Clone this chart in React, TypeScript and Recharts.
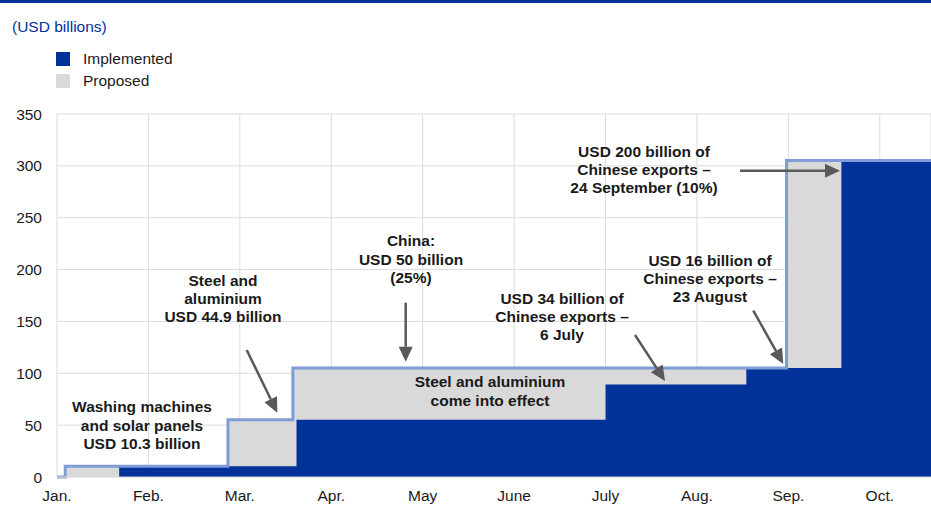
import React from 'react';
import {
  ComposedChart,
  Area,
  Line,
  XAxis,
  YAxis,
  CartesianGrid,
} from 'recharts';

// ---------------------------------------------------------------------------
// Data (x = months since 1 January)
// ---------------------------------------------------------------------------
const monthLabels = ['Jan.', 'Feb.', 'Mar.', 'Apr.', 'May', 'June', 'July', 'Aug.', 'Sep.', 'Oct.'];
const monthTicks = [0, 1, 2, 3, 4, 5, 6, 7, 8, 9];
const valueTicks = [0, 50, 100, 150, 200, 250, 300, 350];

const stepDates = [0, 0.09, 0.68, 1.87, 2.58, 2.62, 6.0, 7.54, 7.98, 8.58, 9.56];
const implementedValues = [0, 0, 10.3, 10.3, 10.3, 55.2, 89.2, 105.2, 105.2, 305.2, 305.2];
const proposedValues = [0, 10.3, 10.3, 55.2, 105.2, 105.2, 105.2, 105.2, 305.2, 305.2, 305.2];

const chartData = stepDates.map((m, i) => ({
  m,
  implemented: implementedValues[i],
  proposed: proposedValues[i],
}));

const BLUE = '#003299';
const GREY = '#D9D9D9';
const LINE_BLUE = '#7F9CD6';
const ARROW = '#595959';
const FONT = '"Liberation Sans", Arial, sans-serif';
const FS = 15.5;

// ---------------------------------------------------------------------------
// Annotations (pixel positions on the page)
// ---------------------------------------------------------------------------
const notes = [
  { x: 142, y: 406.7, lines: ['Washing machines', 'and solar panels', 'USD 10.3 billion'] },
  { x: 223, y: 280, lines: ['Steel and', 'aluminium', 'USD 44.9 billion'] },
  { x: 411, y: 240.7, lines: ['China:', 'USD 50 billion', '(25%)'] },
  { x: 490, y: 381.7, lines: ['Steel and aluminium', 'come into effect'] },
  { x: 562, y: 298.3, lines: ['USD 34 billion of', 'Chinese exports –', '6 July'] },
  { x: 710, y: 260, lines: ['USD 16 billion of', 'Chinese exports –', '23 August'] },
  { x: 644, y: 151, lines: ['USD 200 billion of', 'Chinese exports –', '24 September (10%)'] },
];

const arrows = [
  [246.7, 350, 277.3, 412.7],
  [405.7, 302.7, 405.7, 361.7],
  [635, 335, 665, 381],
  [753.3, 310.7, 783.3, 364],
  [740, 170.7, 840, 170.7],
];

function Arrow({ a }: { a: number[] }) {
  const [x1, y1, x2, y2] = a;
  const dx = x2 - x1;
  const dy = y2 - y1;
  const len = Math.sqrt(dx * dx + dy * dy);
  const ux = dx / len;
  const uy = dy / len;
  const hl = 15;
  const hw = 7;
  const bx = x2 - ux * hl;
  const by = y2 - uy * hl;
  const pts = `${x2},${y2} ${bx - uy * hw},${by + ux * hw} ${bx + uy * hw},${by - ux * hw}`;
  return (
    <g>
      <line x1={x1} y1={y1} x2={bx} y2={by} stroke={ARROW} strokeWidth={2.5} />
      <polygon points={pts} fill={ARROW} />
    </g>
  );
}

export default function App() {
  return (
    <div style={{ position: 'absolute', left: 0, top: 0, width: 931, height: 513, background: '#fff', fontFamily: FONT }}>
      <div style={{ position: 'absolute', left: 0, top: 0, width: 931, height: 2.5, background: BLUE }} />
      <div style={{ position: 'absolute', left: 12, top: 17, fontSize: FS, color: BLUE, lineHeight: '20px' }}>
        (USD billions)
      </div>
      {/* legend */}
      <div style={{ position: 'absolute', left: 56, top: 52, width: 14, height: 14, background: BLUE }} />
      <div style={{ position: 'absolute', left: 83, top: 49, fontSize: FS, color: '#1a1a1a', lineHeight: '20px' }}>Implemented</div>
      <div style={{ position: 'absolute', left: 56, top: 74, width: 14, height: 14, background: GREY }} />
      <div style={{ position: 'absolute', left: 83, top: 71, fontSize: FS, color: '#1a1a1a', lineHeight: '20px' }}>Proposed</div>

      <div style={{ position: 'absolute', left: 0, top: 0 }}>
        <ComposedChart width={931} height={513} data={chartData} margin={{ top: 114, right: 0, bottom: 6, left: 0 }}>
          <CartesianGrid stroke="#DCDCDC" strokeWidth={1} />
          <XAxis
            dataKey="m"
            type="number"
            domain={[0, 9.56]}
            ticks={monthTicks}
            tickFormatter={(v: number) => monthLabels[v]}
            allowDataOverflow
            height={30}
            stroke="#DCDCDC"
            tickLine={false}
            tickSize={0}
            tickMargin={13}
            tick={{ fill: '#1a1a1a', fontSize: FS, fontFamily: FONT }}
            interval={0}
          />
          <YAxis
            type="number"
            domain={[0, 350]}
            ticks={valueTicks}
            width={57}
            axisLine={false}
            tickLine={false}
            tickSize={0}
            tickMargin={15}
            tick={{ fill: '#1a1a1a', fontSize: FS, fontFamily: FONT }}
            interval={0}
          />
          <Area
            type="stepAfter"
            dataKey="proposed"
            stroke="none"
            fill={GREY}
            fillOpacity={1}
            isAnimationActive={false}
          />
          <Area
            type="stepAfter"
            dataKey="implemented"
            stroke="none"
            fill={BLUE}
            fillOpacity={1}
            isAnimationActive={false}
          />
          <Line
            type="stepAfter"
            dataKey="proposed"
            stroke={LINE_BLUE}
            strokeWidth={3}
            dot={false}
            activeDot={false}
            isAnimationActive={false}
          />
        </ComposedChart>
      </div>

      <svg width={931} height={513} style={{ position: 'absolute', left: 0, top: 0, pointerEvents: 'none' }}>
        {notes.map((n, i) => (
          <text key={i} textAnchor="middle" fontFamily={FONT} fontSize={FS} fontWeight="bold" fill="#1a1a1a">
            {n.lines.map((l, j) => (
              <tspan key={j} x={n.x} y={n.y + 5.5 + j * 18.3}>
                {l}
              </tspan>
            ))}
          </text>
        ))}
        {arrows.map((a, i) => (
          <Arrow key={i} a={a} />
        ))}
      </svg>
    </div>
  );
}
